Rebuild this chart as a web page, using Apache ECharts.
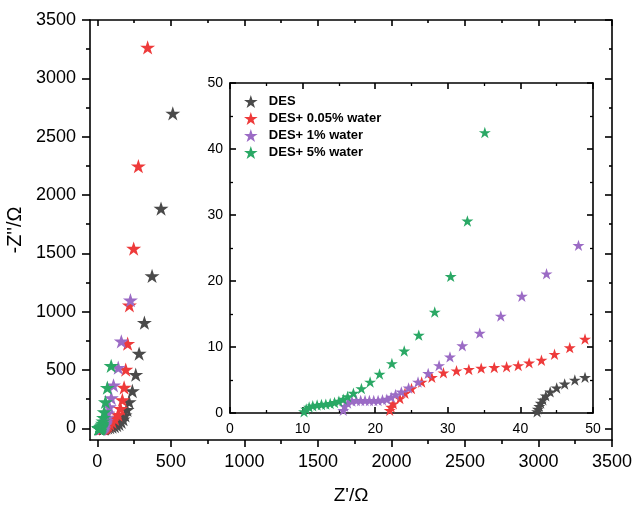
<!DOCTYPE html>
<html>
<head>
<meta charset="utf-8">
<script src="https://cdn.jsdelivr.net/npm/echarts@6/dist/echarts.min.js"></script>
<style>html,body{margin:0;padding:0;background:#fff;}#c{width:633px;height:506px;}</style>
</head>
<body>
<div id="c"></div>
<script>
// ---- data (Z' in Ohm, -Z'' in Ohm) ----
const seriesNames = ['DES', 'DES+ 0.05% water', 'DES+ 1% water', 'DES+ 5% water'];
const desRe = [42.3,42.4,42.6,42.8,43.1,43.5,44.1,45.0,46.1,47.5,48.9,50.5,58,70,84,100,116,132,147,162,175,188,202,216,238,261,284,320,372,433,513];
const desIm = [0.2,0.6,1.0,1.5,2.0,2.6,3.2,3.8,4.4,5.0,5.4,5.9,6.8,8.2,10.5,14,20,28,39,56,79,112,159,226,320,460,641,906,1306,1884,2700];
const w005Re = [22.0,22.2,22.5,23.4,24.1,25.0,26.4,27.8,29.4,31.2,32.9,34.6,36.4,38.1,39.7,41.2,42.9,44.7,46.8,48.9,52,57,63,72,85,100,118,140,158,170,182,193,206,218,247,279,342];
const w005Im = [0.4,0.9,1.4,2.2,3.0,3.7,4.7,5.4,6.1,6.4,6.6,6.8,6.9,7.0,7.2,7.6,8.0,8.9,9.9,11.2,13,16,20,27,39,56,81,117,169,243,350,504,726,1055,1541,2247,3265];
const w1Re = [15.6,15.8,16.2,16.8,17.4,18.0,18.6,19.2,19.8,20.4,21.0,21.6,22.2,22.8,23.6,24.6,25.9,27.3,28.8,30.3,32.0,34.4,37.3,40.2,43.6,48.0,51,54,57,61,65,70,82,95,110,142,163,225];
const w1Im = [0.4,1.0,1.5,1.8,1.9,1.9,1.9,1.9,1.9,1.9,2.0,2.1,2.4,2.8,3.2,3.8,4.7,6.0,7.2,8.5,10.2,12.1,14.7,17.7,21.1,25.4,31,39,50,65,90,129,183,260,369,520,746,1098];
const w5Re = [10.2,10.5,10.9,11.4,12.0,12.6,13.2,13.8,14.4,15.0,15.6,16.2,17.0,18.1,19.3,20.6,22.3,24.0,26.0,28.2,30.4,32.7,35.1,38,42,47,55,68,94];
const w5Im = [0.2,0.6,0.9,1.1,1.2,1.3,1.35,1.45,1.6,1.8,2.1,2.5,3.0,3.7,4.7,5.9,7.5,9.4,11.8,15.3,20.7,29.1,42.5,62,92,140,226,349,536];

// ---- tick labels ----
const mainXTicks = [0,500,1000,1500,2000,2500,3000,3500];
const mainXMinor = [250,750,1250,1750,2250,2750,3250];
const mainYTicks = [0,500,1000,1500,2000,2500,3000,3500];
const mainYMinor = [250,750,1250,1750,2250,2750,3250];

const colors = ['#4a4a4a', '#ee3a3a', '#9b6bc5', '#2aa865'];
const STAR = 'path://M50,2 L61.2,36.6 L97.6,36.6 L68.2,58 L79.4,92.6 L50,71.2 L20.6,92.6 L31.8,58 L2.4,36.6 L38.8,36.6 Z';
const FONT = 'Liberation Sans, Arial, sans-serif';
const plain = v => String(v);

const reArr = [desRe, w005Re, w1Re, w5Re];
const imArr = [desIm, w005Im, w1Im, w5Im];
function pairs(i){ return reArr[i].map((v,k)=>[v, imArr[i][k]]); }

const line = {color:'#000', width:1.6};
function mainAxis(pos, values, len, inside, withLine, extra){
  return Object.assign({
    type:'value', gridIndex:0, position:pos,
    axisLine:{show:withLine, onZero:false, lineStyle:line},
    axisTick:{show:true, inside:inside, length:len, customValues:values, lineStyle:line},
    axisLabel:{show:false},
    splitLine:{show:false}
  }, extra||{});
}

const xAxis = [
  mainAxis('bottom', mainXTicks, 7, false, true, {min:-50, max:3500,
    axisLabel:{show:true, customValues:mainXTicks, formatter:plain, fontSize:18, color:'#000', margin:13, fontFamily:FONT},
    name:"Z'/\u03A9", nameLocation:'middle', nameGap:46, nameTextStyle:{fontSize:19, color:'#000', fontFamily:FONT}}),
  mainAxis('bottom', mainXMinor, 4, false, false, {min:-50, max:3500}),
  mainAxis('top', mainXTicks, 6, true, true, {min:-50, max:3500}),
  mainAxis('top', mainXMinor, 3, true, false, {min:-50, max:3500}),
  { type:'value', gridIndex:1, position:'bottom', min:0, max:50, interval:10,
    axisLine:{show:true, onZero:false, lineStyle:line},
    axisTick:{show:true, inside:true, length:6, lineStyle:line},
    minorTick:{show:true, splitNumber:2, length:3, lineStyle:{color:'#000', width:1.3}},
    axisLabel:{fontSize:14, color:'#000', margin:9, fontFamily:FONT, formatter:plain},
    splitLine:{show:false}},
  { type:'value', gridIndex:1, position:'top', min:0, max:50, interval:10,
    axisLine:{show:true, onZero:false, lineStyle:line},
    axisTick:{show:true, inside:true, length:6, lineStyle:line},
    minorTick:{show:true, splitNumber:2, length:3, lineStyle:{color:'#000', width:1.3}},
    axisLabel:{show:false}, splitLine:{show:false}}
];
const yAxis = [
  mainAxis('left', mainYTicks, 8, false, true, {min:-100, max:3500,
    axisLabel:{show:true, customValues:mainYTicks, formatter:plain, fontSize:18, color:'#000', margin:14, fontFamily:FONT},
    name:"-Z''/\u03A9", nameLocation:'middle', nameGap:64, nameTextStyle:{fontSize:20, color:'#000', fontFamily:FONT}}),
  mainAxis('left', mainYMinor, 4, false, false, {min:-100, max:3500}),
  mainAxis('right', mainYTicks, 7, true, true, {min:-100, max:3500}),
  mainAxis('right', mainYMinor, 3, true, false, {min:-100, max:3500}),
  { type:'value', gridIndex:1, position:'left', min:0, max:50, interval:10,
    axisLine:{show:true, onZero:false, lineStyle:line},
    axisTick:{show:true, inside:true, length:6, lineStyle:line},
    minorTick:{show:true, splitNumber:2, length:3, lineStyle:{color:'#000', width:1.3}},
    axisLabel:{fontSize:14, color:'#000', margin:7, fontFamily:FONT, formatter:plain},
    splitLine:{show:false}},
  { type:'value', gridIndex:1, position:'right', min:0, max:50, interval:10,
    axisLine:{show:true, onZero:false, lineStyle:line},
    axisTick:{show:true, inside:true, length:6, lineStyle:line},
    minorTick:{show:true, splitNumber:2, length:3, lineStyle:{color:'#000', width:1.3}},
    axisLabel:{show:false}, splitLine:{show:false}}
];

const order = [0,1,3,2];
const series = [];
order.forEach(i=>{
  series.push({type:'scatter', name:seriesNames[i], xAxisIndex:0, yAxisIndex:0, data:pairs(i),
    symbol:STAR, symbolSize:15, symbolKeepAspect:true, itemStyle:{color:colors[i], opacity:1}, z:2+i});
});
order.forEach(i=>{
  series.push({type:'scatter', name:seriesNames[i], xAxisIndex:4, yAxisIndex:4, data:pairs(i), clip:true,
    symbol:STAR, symbolSize:12, symbolKeepAspect:true, itemStyle:{color:colors[i], opacity:1}, z:2+i});
});

const chart = echarts.init(document.getElementById('c'), null, {renderer:'canvas'});
chart.setOption({
  animation:false,
  backgroundColor:'#fff',
  color:colors,
  textStyle:{fontFamily:FONT},
  grid:[
    {left:90, top:20, width:522, height:420, containLabel:false, outerBoundsMode:'none'},
    {left:230, top:83, width:363, height:330, containLabel:false, outerBoundsMode:'none'}
  ],
  legend:{
    data:seriesNames.map((n,i)=>({name:n, icon:STAR, itemStyle:{color:colors[i]}})),
    orient:'vertical', left:239, top:90, itemWidth:26, itemHeight:13, itemGap:4,
    symbolKeepAspect:true,
    textStyle:{fontSize:13, fontWeight:'bold', color:'#000', fontFamily:FONT}
  },
  xAxis:xAxis,
  yAxis:yAxis,
  series:series
});
</script>
</body>
</html>
